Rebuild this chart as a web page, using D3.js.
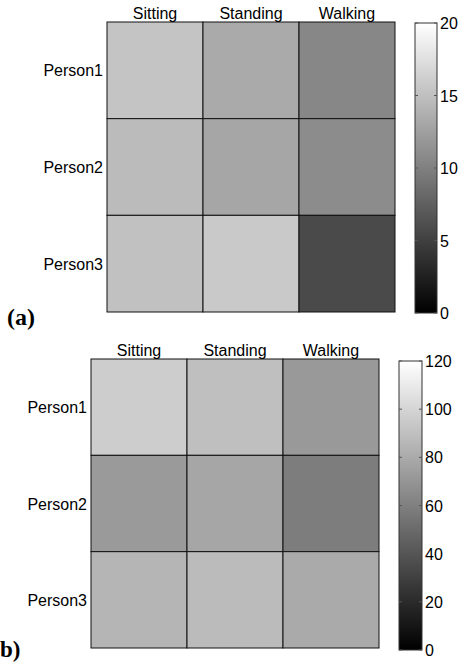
<!DOCTYPE html>
<html>
<head>
<meta charset="utf-8">
<script src="https://cdn.jsdelivr.net/npm/d3@7"></script>
<style>
  html, body { margin: 0; padding: 0; background: #fff; }
  svg { display: block; }
  text { font-family: "Liberation Sans", Arial, sans-serif; fill: #000; }
  .panel-label { font-family: "Liberation Serif", "Times New Roman", serif; font-weight: bold; }
</style>
</head>
<body>
<svg id="chart" width="460" height="669"></svg>
<script>
// ---- data ----
const activities = ["Sitting", "Standing", "Walking"];
const persons = ["Person1", "Person2", "Person3"];
// panel (a) values, rows = persons, columns = activities
const valuesA = [
  [15.4, 13.3, 10.6],
  [14.7, 13.0, 11.0],
  [15.1, 15.8, 5.8]
];
const ticksA = [0, 5, 10, 15, 20];
const maxA = 20;
// panel (b) values
const valuesB = [
  [96.5, 90, 72],
  [72.5, 78, 59],
  [85, 88, 80]
];
const ticksB = [0, 20, 40, 60, 80, 100, 120];
const maxB = 120;

const svg = d3.select("#chart");
const defs = svg.append("defs");

function panel(cfg) {
  const g = svg.append("g");
  const x = d3.scaleBand().domain(activities).range([cfg.x0, cfg.x1]);
  const y = d3.scaleBand().domain(persons).range([cfg.y0, cfg.y1]);
  const color = d3.scaleLinear().domain([0, cfg.max]).range(["#000000", "#ffffff"]).interpolate(d3.interpolateRgb);

  const cells = [];
  persons.forEach((p, i) => activities.forEach((a, j) => cells.push({p, a, v: cfg.values[i][j]})));

  g.selectAll("rect.cell").data(cells).enter().append("rect")
    .attr("class", "cell")
    .attr("x", d => x(d.a)).attr("y", d => y(d.p))
    .attr("width", x.bandwidth()).attr("height", y.bandwidth())
    .attr("fill", d => color(d.v))
    .attr("stroke", "#111").attr("stroke-width", 1);

  // column labels
  g.selectAll("text.col").data(activities).enter().append("text")
    .attr("x", d => x(d) + x.bandwidth() / 2)
    .attr("y", cfg.y0 - 3)
    .attr("text-anchor", "middle")
    .attr("font-size", 16)
    .text(d => d);

  // row labels
  g.selectAll("text.row").data(persons).enter().append("text")
    .attr("x", cfg.x0 - 4)
    .attr("y", d => y(d) + y.bandwidth() / 2 + 6)
    .attr("text-anchor", "end")
    .attr("font-size", 16)
    .text(d => d);

  // colorbar
  const gid = "grad" + cfg.id;
  const grad = defs.append("linearGradient").attr("id", gid)
    .attr("x1", 0).attr("y1", 1).attr("x2", 0).attr("y2", 0);
  d3.range(0, 1.0001, 0.1).forEach(t => {
    grad.append("stop").attr("offset", t).attr("stop-color", color(t * cfg.max));
  });
  const cy = d3.scaleLinear().domain([0, cfg.max]).range([cfg.cb.y1, cfg.cb.y0]);
  g.append("rect")
    .attr("x", cfg.cb.x0).attr("y", cfg.cb.y0)
    .attr("width", cfg.cb.x1 - cfg.cb.x0).attr("height", cfg.cb.y1 - cfg.cb.y0)
    .attr("fill", `url(#${gid})`)
    .attr("stroke", "#333").attr("stroke-width", 1);
  const tk = g.selectAll("g.tk").data(cfg.ticks).enter().append("g");
  tk.append("line")
    .attr("x1", cfg.cb.x0).attr("x2", cfg.cb.x0 + 3)
    .attr("y1", d => cy(d)).attr("y2", d => cy(d))
    .attr("stroke", "#555").attr("stroke-width", 1);
  tk.append("line")
    .attr("x1", cfg.cb.x1 - 3).attr("x2", cfg.cb.x1)
    .attr("y1", d => cy(d)).attr("y2", d => cy(d))
    .attr("stroke", "#555").attr("stroke-width", 1);
  tk.append("text")
    .attr("x", cfg.cb.x1 + 3)
    .attr("y", d => cy(d) + 6)
    .attr("font-size", 16)
    .text(d => d);

  // panel label
  svg.append("text").attr("class", "panel-label")
    .attr("x", cfg.label.x).attr("y", cfg.label.y)
    .attr("font-size", cfg.label.size)
    .text(cfg.label.text);
}

panel({
  id: "a", values: valuesA, max: maxA, ticks: ticksA,
  x0: 107, x1: 395, y0: 22, y1: 312,
  cb: {x0: 415, x1: 437, y0: 23, y1: 313},
  label: {text: "(a)", x: 7, y: 325, size: 24}
});
panel({
  id: "b", values: valuesB, max: maxB, ticks: ticksB,
  x0: 91, x1: 379, y0: 359, y1: 648,
  cb: {x0: 399, x1: 422, y0: 361, y1: 650},
  label: {text: "b)", x: 0, y: 657, size: 23}
});
</script>
</body>
</html>
